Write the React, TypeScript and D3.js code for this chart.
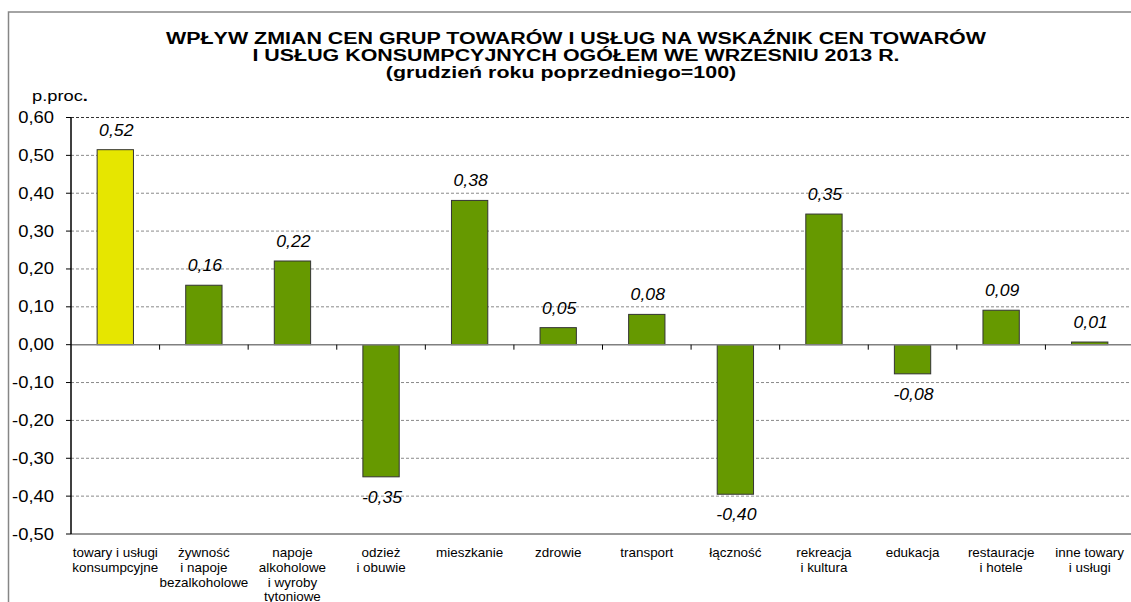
import React from "react";
import * as d3 from "d3";

const categories: string[][] = [
  ["towary i usługi", "konsumpcyjne"],
  ["żywność", "i napoje", "bezalkoholowe"],
  ["napoje", "alkoholowe", "i wyroby", "tytoniowe"],
  ["odzież", "i obuwie"],
  ["mieszkanie"],
  ["zdrowie"],
  ["transport"],
  ["łączność"],
  ["rekreacja", "i kultura"],
  ["edukacja"],
  ["restauracje", "i hotele"],
  ["inne towary", "i usługi"],
];
const values: number[] = [0.515, 0.157, 0.221, -0.349, 0.381, 0.045, 0.08, -0.395, 0.345, -0.077, 0.091, 0.007];
const valueLabels: string[] = ["0,52", "0,16", "0,22", "-0,35", "0,38", "0,05", "0,08", "-0,40", "0,35", "-0,08", "0,09", "0,01"];
const yTicks: number[] = [0.6, 0.5, 0.4, 0.3, 0.2, 0.1, 0, -0.1, -0.2, -0.3, -0.4, -0.5];
const titleLines: string[] = [
  "WPŁYW ZMIAN CEN GRUP TOWARÓW I USŁUG NA WSKAŹNIK CEN TOWARÓW",
  "I USŁUG KONSUMPCYJNYCH OGÓŁEM WE WRZESNIU 2013 R.",
  "(grudzień roku poprzedniego=100)",
];

const W = 1131;
const H = 602;
const plotLeft = 71;
const plotRight = 1134;
const plotTop = 117.5;
const plotBottom = 534;
const font = "Arial, 'Liberation Sans', sans-serif";

function SText(props: {
  x: number;
  y: number;
  sx: number;
  anchor?: string;
  size: number;
  weight?: string;
  italic?: boolean;
  children: React.ReactNode;
}) {
  return (
    <text
      transform={`translate(${props.x},${props.y}) scale(${props.sx},1)`}
      textAnchor={props.anchor || "middle"}
      fontSize={props.size}
      fontWeight={props.weight || "normal"}
      fontStyle={props.italic ? "italic" : "normal"}
      fill="#000"
    >
      {props.children}
    </text>
  );
}

export default function App() {
  const x = d3
    .scaleBand<number>()
    .domain(d3.range(categories.length))
    .range([plotLeft, plotRight])
    .paddingInner(0.59)
    .paddingOuter(0.295);
  const y = d3.scaleLinear().domain([-0.5, 0.6]).range([plotBottom, plotTop]);
  const step = (plotRight - plotLeft) / categories.length;
  const fmt = (v: number) => v.toFixed(2).replace(".", ",");

  return (
    <svg
      width={W}
      height={H}
      style={{ position: "absolute", left: 0, top: 0, background: "#fff" }}
      fontFamily={font}
    >
      <rect x={8.5} y={12} width={W + 10} height={H + 10} fill="#fff" stroke="#868686" strokeWidth={1.5} />
      {titleLines.map((t, i) => (
        <SText key={i} x={i === 2 ? 561 : 576} y={43.5 + i * 17.3} sx={1.26} size={17} weight="bold">
          {t}
        </SText>
      ))}
      <SText x={32} y={101} sx={1.22} size={15} anchor="start">
        p.proc<tspan fontWeight="bold">.</tspan>
      </SText>
      {yTicks.map((t, i) => {
        const isEdge = i === 0 || i === yTicks.length - 1;
        const isZero = t === 0;
        return (
          <g key={i}>
            {!isZero && (
              <line
                x1={plotLeft}
                x2={W}
                y1={y(t)}
                y2={y(t)}
                stroke={isEdge ? "#333" : "#8a8a8a"}
                strokeWidth={1}
                strokeDasharray={i === yTicks.length - 1 ? undefined : "3,2"}
              />
            )}
            <line x1={plotLeft - 5} x2={plotLeft} y1={y(t)} y2={y(t)} stroke="#000" />
            <SText x={54} y={y(t) + 5.5} sx={1.15} size={16} anchor="end">
              {fmt(t)}
            </SText>
          </g>
        );
      })}
      {values.map((v, i) => {
        const y0 = y(0);
        const yv = y(v);
        return (
          <rect
            key={i}
            x={x(i)}
            y={Math.min(y0, yv)}
            width={x.bandwidth()}
            height={Math.abs(yv - y0)}
            fill={i === 0 ? "#E6E600" : "#669900"}
            stroke="#333"
            strokeWidth={1}
          />
        );
      })}
      <line x1={plotLeft} x2={W} y1={y(0)} y2={y(0)} stroke="#808080" strokeWidth={1.5} />
      {d3.range(1, categories.length).map((i) => (
        <line key={i} x1={plotLeft + i * step} x2={plotLeft + i * step} y1={y(0)} y2={y(0) + 5} stroke="#000" />
      ))}
      <line x1={plotLeft} x2={plotLeft} y1={plotTop} y2={plotBottom} stroke="#000" strokeWidth={1.5} />
      {values.map((v, i) => {
        const cx = (x(i) as number) + x.bandwidth() / 2 + 1;
        const ty = v >= 0 ? y(v) - 14 : y(v) + 26;
        return (
          <SText key={i} x={cx} y={ty} sx={1.07} size={16.5} italic>
            {valueLabels[i]}
          </SText>
        );
      })}
      {categories.map((lines, i) => {
        const cx = (x(i) as number) + x.bandwidth() / 2;
        return (
          <g key={i}>
            {lines.map((l, j) => (
              <SText key={j} x={cx} y={557 + j * 14.8} sx={1.12} size={12}>
                {l}
              </SText>
            ))}
          </g>
        );
      })}
    </svg>
  );
}
